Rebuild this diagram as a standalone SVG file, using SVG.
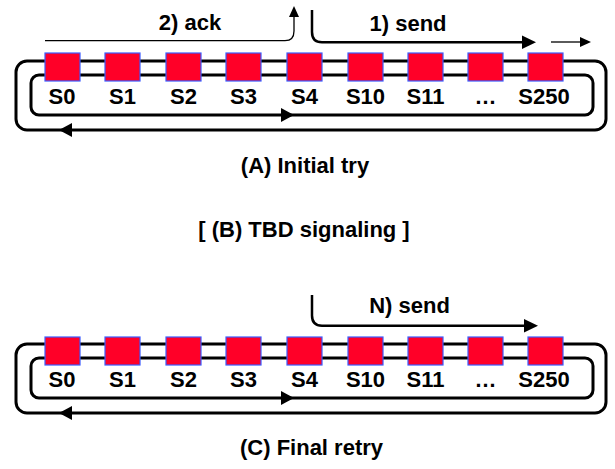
<svg xmlns="http://www.w3.org/2000/svg" width="615" height="469" viewBox="0 0 615 469">
<style>
text{font-family:"Liberation Sans",Arial,sans-serif;font-weight:bold;font-size:22px;fill:#000;text-anchor:middle}
.loop{fill:none;stroke:#000;stroke-width:3}
.sq{fill:#FF0028;stroke:#3A5BFF;stroke-width:1.2}
.thin{fill:none;stroke:#000;stroke-width:1.3}
.mid{fill:none;stroke:#000;stroke-width:2.5}
.head{fill:#000}
</style>
<defs>
<g id="chain">
<rect class="loop" x="16" y="61" width="590" height="69" rx="11"/>
<rect class="loop" x="31" y="75" width="562" height="40" rx="8"/>
<polygon class="head" points="294,115 281,108 281,122"/>
<polygon class="head" points="59,130 72,123 72,137"/>
</g>
</defs>
<rect width="615" height="469" fill="#fff"/>
<g id="connectors">
<use href="#chain"/>
<use href="#chain" transform="translate(0,283)"/>
<path class="thin" d="M45,40.7 H285 Q294,40.7 294,31 V15"/>
<polygon class="head" points="294,6 289,17 299,17"/>
<path class="mid" d="M312,10 V32 Q312,42.3 322,42.3 H524"/>
<polygon class="head" points="536,42.3 522,35.5 522,49"/>
<path class="thin" d="M551,42 H582"/>
<polygon class="head" points="591,42 580,37 580,47"/>
<path class="mid" d="M312,295 V315.5 Q312,325.7 322,325.7 H526"/>
<polygon class="head" points="538,325.7 524,319 524,332.5"/>
</g>
<g id="nodesA">
<g id="a-s0"><rect class="sq" x="45" y="53" width="35" height="28"/><text x="62" y="104">S0</text></g>
<g id="a-s1"><rect class="sq" x="105" y="53" width="35" height="28"/><text x="122.5" y="104">S1</text></g>
<g id="a-s2"><rect class="sq" x="166" y="53" width="35" height="28"/><text x="183.5" y="104">S2</text></g>
<g id="a-s3"><rect class="sq" x="226" y="53" width="35" height="28"/><text x="243.5" y="104">S3</text></g>
<g id="a-s4"><rect class="sq" x="287" y="53" width="35" height="28"/><text x="304.5" y="104">S4</text></g>
<g id="a-s10"><rect class="sq" x="348" y="53" width="35" height="28"/><text x="365.5" y="104">S10</text></g>
<g id="a-s11"><rect class="sq" x="408" y="53" width="35" height="28"/><text x="425.5" y="104">S11</text></g>
<g id="a-dots"><rect class="sq" x="468" y="53" width="35" height="28"/><text x="485.5" y="104">…</text></g>
<g id="a-s250"><rect class="sq" x="528" y="53" width="35" height="28"/><text x="544" y="104">S250</text></g>
</g>
<g id="nodesC">
<g id="c-s0"><rect class="sq" x="45" y="337" width="35" height="28"/><text x="62" y="387">S0</text></g>
<g id="c-s1"><rect class="sq" x="105" y="337" width="35" height="28"/><text x="122.5" y="387">S1</text></g>
<g id="c-s2"><rect class="sq" x="166" y="337" width="35" height="28"/><text x="183.5" y="387">S2</text></g>
<g id="c-s3"><rect class="sq" x="226" y="337" width="35" height="28"/><text x="243.5" y="387">S3</text></g>
<g id="c-s4"><rect class="sq" x="287" y="337" width="35" height="28"/><text x="304.5" y="387">S4</text></g>
<g id="c-s10"><rect class="sq" x="348" y="337" width="35" height="28"/><text x="365.5" y="387">S10</text></g>
<g id="c-s11"><rect class="sq" x="408" y="337" width="35" height="28"/><text x="425.5" y="387">S11</text></g>
<g id="c-dots"><rect class="sq" x="468" y="337" width="35" height="28"/><text x="485.5" y="387">…</text></g>
<g id="c-s250"><rect class="sq" x="528" y="337" width="35" height="28"/><text x="544" y="387">S250</text></g>
</g>
<g id="labels">
<text x="190" y="30">2) ack</text>
<text x="408" y="31">1) send</text>
<text x="409.5" y="313">N) send</text>
<text x="305" y="173">(A) Initial try</text>
<text x="304" y="237">[ (B) TBD signaling ]</text>
<text x="311.5" y="455">(C) Final retry</text>
</g>
</svg>
